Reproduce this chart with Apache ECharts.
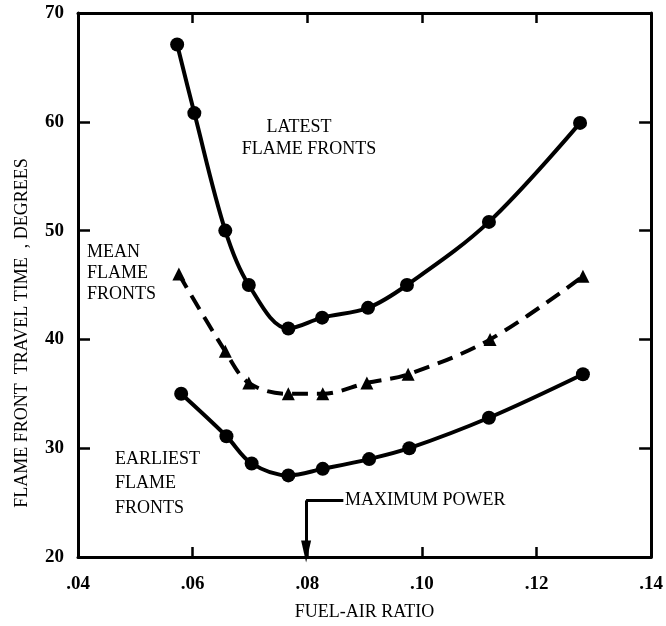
<!DOCTYPE html>
<html>
<head>
<meta charset="utf-8">
<script src="https://cdn.jsdelivr.net/npm/echarts@6/dist/echarts.min.js"></script>
<style>
html,body{margin:0;padding:0;background:#fff;}
#chart{width:666px;height:626px;}
</style>
</head>
<body>
<div id="chart"></div>
<script>
// ---- data ----
const xTickLabels = ['.04', '.06', '.08', '.10', '.12', '.14'];
const yTickValues = [20, 30, 40, 50, 60, 70];

const latestX = [0.0573, 0.0603, 0.0657, 0.0698, 0.0767, 0.0826, 0.0906, 0.0974, 0.1117, 0.1276];
const latestY = [67.1, 60.8, 50.0, 45.0, 41.0, 42.0, 42.9, 45.0, 50.8, 59.9];

const meanX = [0.0576, 0.0657, 0.0698, 0.0767, 0.0827, 0.0904, 0.0976, 0.1119, 0.1281];
const meanY = [46.0, 38.9, 36.0, 35.0, 35.0, 36.0, 36.8, 40.0, 45.8];

const earliestX = [0.0580, 0.0659, 0.0703, 0.0767, 0.0827, 0.0908, 0.0978, 0.1117, 0.1281];
const earliestY = [35.0, 31.1, 28.6, 27.5, 28.1, 29.0, 30.0, 32.8, 36.8];

const maxPowerX = 0.0798;
const maxPowerArrowY = [25.2, 20.5];
const maxPowerLabelX = 0.0866;

// ---- chart ----
const FONT = '"Liberation Serif", "Times New Roman", serif';
const pairs = (xs, ys) => xs.map((x, i) => [x, ys[i]]);
const axisLine = { show: true, lineStyle: { color: '#000', width: 3 } };
const tick = (len) => ({ show: true, inside: true, length: len, lineStyle: { color: '#000', width: 2.5 } });

const chart = echarts.init(document.getElementById('chart'), null, { renderer: 'canvas' });
chart.setOption({
  backgroundColor: '#fff',
  animation: false,
  grid: { left: 78, right: 12, top: 13, bottom: 62, containLabel: false },
  xAxis: [{
    type: 'value', min: 0.04, max: 0.14, interval: 0.02, position: 'bottom',
    axisLine: axisLine, axisTick: tick(10), splitLine: { show: false },
    axisLabel: {
      color: '#000', fontFamily: FONT, fontWeight: 'bold', fontSize: 19, margin: 18,
      formatter: v => xTickLabels[Math.round((v - 0.04) / 0.02)]
    },
    name: 'FUEL-AIR RATIO', nameLocation: 'middle', nameGap: 46,
    nameTextStyle: { color: '#000', fontFamily: FONT, fontSize: 18 }
  }, {
    type: 'value', min: 0.04, max: 0.14, interval: 0.02, position: 'top',
    axisLine: axisLine, axisTick: tick(10), axisLabel: { show: false }, splitLine: { show: false }
  }],
  yAxis: [{
    type: 'value', min: yTickValues[0], max: yTickValues[yTickValues.length - 1], interval: 10, position: 'left',
    axisLine: axisLine, axisTick: tick(12), splitLine: { show: false },
    axisLabel: { color: '#000', fontFamily: FONT, fontWeight: 'bold', fontSize: 19, margin: 14 }
  }, {
    type: 'value', min: yTickValues[0], max: yTickValues[yTickValues.length - 1], interval: 10, position: 'right',
    axisLine: axisLine, axisTick: tick(12), axisLabel: { show: false }, splitLine: { show: false }
  }],
  series: [{
    name: 'Latest', type: 'line', smooth: 0.35,
    data: pairs(latestX, latestY),
    symbol: 'circle', symbolSize: 14, showAllSymbol: true,
    itemStyle: { color: '#000' }, lineStyle: { color: '#000', width: 4 }
  }, {
    name: 'Mean', type: 'line', smooth: 0.35,
    data: pairs(meanX, meanY),
    symbol: 'triangle', symbolSize: 13, showAllSymbol: true,
    itemStyle: { color: '#000' }, lineStyle: { color: '#000', width: 4, type: [16, 9] }
  }, {
    name: 'Earliest', type: 'line', smooth: 0.35,
    data: pairs(earliestX, earliestY),
    symbol: 'circle', symbolSize: 14, showAllSymbol: true,
    itemStyle: { color: '#000' }, lineStyle: { color: '#000', width: 4 },
    markLine: {
      silent: true, animation: false,
      label: { show: false },
      lineStyle: { color: '#000', width: 3, type: 'solid' },
      data: [
        [{ coord: [maxPowerLabelX - 0.0003, maxPowerArrowY[0]], symbol: 'none' },
         { coord: [maxPowerX, maxPowerArrowY[0]], symbol: 'none' }],
        [{ coord: [maxPowerX, maxPowerArrowY[0]], symbol: 'none' },
         { coord: [maxPowerX, maxPowerArrowY[1]], symbol: 'triangle', symbolSize: [10, 22], symbolRotate: 180 }]
      ]
    },
    markPoint: {
      silent: true, symbol: 'rect', symbolSize: 0,
      data: [{ coord: [maxPowerLabelX, maxPowerArrowY[0]], value: 'MAXIMUM POWER' }],
      label: { show: true, position: 'right', distance: 0, formatter: 'MAXIMUM POWER',
               color: '#000', fontFamily: FONT, fontSize: 18 }
    }
  }],
  graphic: [
    { type: 'text', x: 22, y: 333, rotation: Math.PI / 2,
      style: { text: 'FLAME FRONT  TRAVEL TIME  , DEGREES', font: '18px ' + FONT, fill: '#000', textAlign: 'center', textVerticalAlign: 'middle' } },
    { type: 'text', x: 299, y: 127,
      style: { text: 'LATEST', font: '18px ' + FONT, fill: '#000', textAlign: 'center', textVerticalAlign: 'middle' } },
    { type: 'text', x: 309, y: 149,
      style: { text: 'FLAME FRONTS', font: '18px ' + FONT, fill: '#000', textAlign: 'center', textVerticalAlign: 'middle' } },
    { type: 'text', x: 87, y: 252,
      style: { text: 'MEAN', font: '18px ' + FONT, fill: '#000', textAlign: 'left', textVerticalAlign: 'middle' } },
    { type: 'text', x: 87, y: 273,
      style: { text: 'FLAME', font: '18px ' + FONT, fill: '#000', textAlign: 'left', textVerticalAlign: 'middle' } },
    { type: 'text', x: 87, y: 294,
      style: { text: 'FRONTS', font: '18px ' + FONT, fill: '#000', textAlign: 'left', textVerticalAlign: 'middle' } },
    { type: 'text', x: 115, y: 459,
      style: { text: 'EARLIEST', font: '18px ' + FONT, fill: '#000', textAlign: 'left', textVerticalAlign: 'middle' } },
    { type: 'text', x: 115, y: 483,
      style: { text: 'FLAME', font: '18px ' + FONT, fill: '#000', textAlign: 'left', textVerticalAlign: 'middle' } },
    { type: 'text', x: 115, y: 508,
      style: { text: 'FRONTS', font: '18px ' + FONT, fill: '#000', textAlign: 'left', textVerticalAlign: 'middle' } }
  ]
});
</script>
</body>
</html>
